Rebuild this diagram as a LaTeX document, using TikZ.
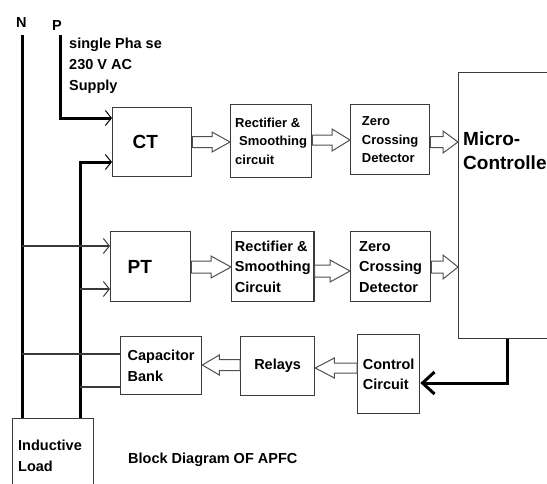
\documentclass[tikz,border=0pt]{standalone}
\usepackage{fontspec}
\setmainfont{Liberation Sans}
\usetikzlibrary{arrows.meta,calc}
\definecolor{boxc}{HTML}{3A3A3A}
\definecolor{arrc}{HTML}{505050}
\newcommand\fsz[2]{\fontsize{#1}{#2}\selectfont\bfseries}
% #1 from anchor, #2 to anchor, #3 y, #4 signed head-base offset from tip, #5 shaft half, #6 head half
\newcommand\blockarrow[6]{%
  \path (#1 |- 0,#3) coordinate (bas) (#2 |- 0,#3) coordinate (bae);
  \draw[hollow] ($(bas)+(0,-#5)$) -- ($(bae)+(#4,-#5)$) -- ($(bae)+(#4,-#6)$) -- (bae)
     -- ($(bae)+(#4,#6)$) -- ($(bae)+(#4,#5)$) -- ($(bas)+(0,#5)$) -- cycle;}
\begin{document}
\begin{tikzpicture}[x=1pt,y=-1pt,
  box/.style={draw=boxc, line width=1.3pt, rectangle, anchor=north west, inner ysep=0pt, align=left},
  small/.style={font=\fsz{13}{18.5}},
  mid/.style={font=\fsz{14.5}{20.5}},
  big/.style={font=\fsz{19}{24}},
  freetext/.style={anchor=base west, inner sep=0pt, align=left},
  hollow/.style={draw=arrc, line width=1pt, fill=white, line join=miter},
  wire/.style={line width=3pt, draw=black},
  thinw/.style={line width=1.2pt, draw=boxc},
  inarr/.style={-{Straight Barb[length=6pt,width=15pt,line width=1pt]}}]
\useasboundingbox (0,0) rectangle (547,483);
\clip (0,0) rectangle (547,483);

% boxes
\node[box, big, minimum width=79pt, minimum height=69pt, inner xsep=20pt, text width=39pt] (ct) at (112,107) {CT};
\node[box, small, minimum width=81pt, minimum height=73pt] (rect1) at (230,104) {Rectifier \&\\\hspace*{4pt}Smoothing\\circuit};
\node[box, small, minimum width=79pt, minimum height=70pt] (zero1) at (350,104) {Zero\\Crossing\\Detector};
\node[box, minimum width=150pt, minimum height=266pt] (mc) at (458,72) {};
\node[freetext, big] (mctext) at (463,169) {Micro-\\Controlle};

\node[box, big, minimum width=80pt, minimum height=70pt, inner xsep=17pt, text width=46pt] (pt) at (110,231) {PT};
\node[box, mid, minimum width=80pt, minimum height=70pt] (rect2) at (231,231) {Rectifier \&\\Smoothing\\Circuit};
\node[box, mid, minimum width=80pt, minimum height=70pt] (zero2) at (350,231) {Zero\\Crossing\\Detector};

\node[box, mid, minimum width=81pt, minimum height=58pt] (cap) at (120,336) {Capacitor\\Bank};
\node[box, mid, minimum width=74pt, minimum height=59pt] (relays) at (240,336) {Relays};
\node[box, mid, minimum width=62pt, minimum height=79pt] (ctrl) at (357,334) {Control\\Circuit};

\node[box, minimum width=81pt, minimum height=90pt] (load) at (12,418) {};
\node[freetext, mid] (loadtext) at (18,471) {Inductive\\Load};

% free labels
\node[freetext, mid] (nlabel) at (16,27) {N};
\node[freetext, mid] (plabel) at (52,30) {P};
\node[freetext, font=\fsz{14.5}{21}] (supply) at (69,90) {single Pha se\\230 V AC\\Supply};
\node[freetext, mid] (title) at (128,463) {Block Diagram OF APFC};

% wires
\coordinate (Ntop) at (22,35);
\coordinate (Ptop) at (60,35);
\coordinate (Ltop) at (80,0 |- load.north);
\draw[wire] (Ntop) -- (load.north -| Ntop);
\draw[wire, inarr] (Ptop) -- (Ptop |- 0,118) -- (ct.west |- 0,118);
\draw[wire, inarr] (Ltop) -- (80,162) -- (ct.west |- 0,162);
\draw[thinw, inarr] (Ntop |- 0,246) -- (pt.west |- 0,246);
\draw[thinw, inarr] (80,289) -- (pt.west |- 0,289);
\draw[thinw] (Ntop |- 0,354) -- (cap.west |- 0,354);
\draw[thinw] (80,387) -- (cap.west |- 0,387);
\draw[wire, -{Straight Barb[length=12pt,width=22pt]}] (mc.south -| 507,0) -- (507,383) -- (ctrl.east |- 0,383);

% block arrows
\blockarrow{ct.east}{rect1.west}{142}{-18}{5.5}{10}
\blockarrow{rect1.east}{zero1.west}{140}{-18}{5}{11}
\blockarrow{zero1.east}{mc.west}{142}{-15}{5.5}{11}
\blockarrow{pt.east}{rect2.west}{267}{-20}{6}{11}
\blockarrow{rect2.east}{zero2.west}{271}{-20}{6}{11}
\blockarrow{zero2.east}{mc.west}{267}{-15}{6}{12}
\blockarrow{ctrl.west}{relays.east}{368}{19}{5}{10}
\blockarrow{relays.west}{cap.east}{365}{17}{5.5}{10}
\end{tikzpicture}
\end{document}
